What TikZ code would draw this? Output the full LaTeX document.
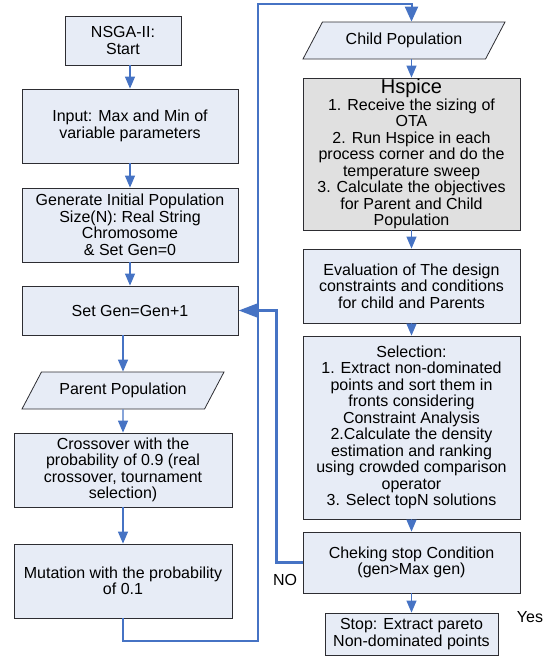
\documentclass[tikz,border=0pt]{standalone}
\usepackage{fontspec}
\setmainfont{Liberation Sans}
\usepackage{tikz}
\usetikzlibrary{positioning,arrows.meta,calc,shapes.geometric}
\definecolor{nsBlue}{RGB}{70,115,196}
\definecolor{nsFill}{RGB}{231,236,246}
\definecolor{nsGray}{RGB}{224,224,224}
\definecolor{nsLine}{RGB}{45,45,50}

\tikzset{
  stepbox/.style={draw=nsLine, fill=nsFill, line width=0.8pt, align=center, inner sep=1pt,
    font=\fontsize{16}{16.5}\selectfont},
  popbox/.style={stepbox, trapezium, trapezium left angle=41, trapezium right angle=139,
    trapezium stretches body, minimum width=202pt, minimum height=37pt},
  flow/.style={nsBlue, line width=1.2pt, -{Triangle[length=12pt,width=10pt]}},
  loopflow/.style={nsBlue, line width=2pt, -{Triangle[length=15pt,width=13pt]}},
  noflow/.style={nsBlue, line width=3.5pt, -{Triangle[length=20pt,width=14pt]}},
  lbl/.style={font=\fontsize{16}{16.5}\selectfont}
}

\begin{document}
\begin{tikzpicture}[x=1pt,y=-1pt]
  \useasboundingbox (0,0) rectangle (549,657);

  % Left column: initialisation and variation
  \begin{scope}
    \node[stepbox, minimum width=116pt, minimum height=49pt] (start) at (123,40.5) {NSGA-II:\\Start};
    \node[stepbox, minimum width=216pt, minimum height=74pt] (input) at (130,126) {Input: Max and Min of\\variable parameters};
    \node[stepbox, minimum width=216pt, minimum height=74pt] (init) at (130,225) {Generate Initial Population\\Size(N): Real String\\Chromosome\\\& Set Gen=0};
    \node[stepbox, minimum width=216pt, minimum height=49pt] (setgen) at (130,310.5) {Set Gen=Gen+1};
    \node[popbox] (parent) at (123,390.5) {Parent Population};
    \node[stepbox, minimum width=218pt, minimum height=74pt] (cross) at (123,470) {Crossover with the\\probability of 0.9 (real\\crossover, tournament\\selection)};
    \node[stepbox, minimum width=218pt, minimum height=74pt] (mut) at (123,581) {Mutation with the probability\\of 0.1};
  \end{scope}

  % Right column: evaluation and selection
  \begin{scope}
    \node[popbox] (child) at (404,40.5) {Child Population};
    \node[stepbox, fill=nsGray, minimum width=217pt, minimum height=152pt] (hspice) at (411.5,154)
      {{\fontsize{20}{21}\selectfont Hspice}\\1. Receive the sizing of\\OTA\\2. Run Hspice in each\\process corner and do the\\temperature sweep\\3. Calculate the objectives\\for Parent and Child\\Population};
    \node[stepbox, minimum width=217pt, minimum height=74pt] (eval) at (411.5,286) {Evaluation of The design\\constraints and conditions\\for child and Parents};
    \node[stepbox, minimum width=217pt, minimum height=183pt] (select) at (411.5,427.5)
      {Selection:\\1. Extract non-dominated\\points and sort them in\\fronts considering\\Constraint Analysis\\2.Calculate the density\\estimation and ranking\\using crowded comparison\\operator\\3. Select topN solutions};
    \node[stepbox, minimum width=217pt, minimum height=61pt] (check) at (411.5,562.5) {Cheking stop Condition\\(gen>Max gen)};
    \node[stepbox, minimum width=173pt, minimum height=42pt] (stop) at (411.5,634) {Stop: Extract pareto\\Non-dominated points};
  \end{scope}

  \node[lbl] (no) at (285,580) {NO};
  \node[lbl] (yes) at (530,617) {Yes};

  % Arrows
  \draw[flow] (start.south -| input.north) -- (input.north);
  \draw[flow] (input) -- (init);
  \draw[flow] (init) -- (setgen);
  \draw[flow] (parent.north |- setgen.south) -- (parent.north);
  \draw[flow] (parent) -- (cross);
  \draw[flow] (cross) -- (mut);
  \draw[flow] (child.south -| hspice.north) -- (hspice.north);
  \draw[flow] (hspice) -- (eval);
  \draw[flow] (eval) -- (select);
  \draw[flow] (select) -- (check);
  \draw[flow] (check) -- (stop);

  % Loop back to the child population
  \coordinate (lpA) at (258,641);
  \coordinate (lpB) at (258,4);
  \draw[loopflow] (mut.south) |- (lpA) -- (lpB) -| (hspice.north |- child.north);

  % NO: next generation
  \draw[noflow] (check.west) -- ++(-26,0) |- (setgen.east);
\end{tikzpicture}
\end{document}
